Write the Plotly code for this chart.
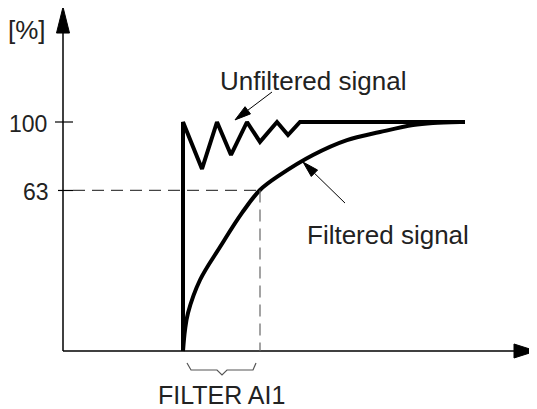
import plotly.graph_objects as go

# ---- data (schematic units: t along x, signal level along y) ----
unf_t = [12.0, 12.0, 13.9, 15.4, 16.8, 18.4, 19.7, 21.4, 22.5, 23.7, 40.2]
unf_y = [0, 100, 79.5, 100, 85.6, 100, 91.3, 100, 94.3, 100, 100]

filt_t = [12.0, 12.2, 12.5, 13.7, 15.7, 17.9, 19.7, 21.7, 25.0, 28.4, 31.7, 35.0, 37.0, 39.7]
filt_y = [0, 9.2, 16.6, 31.0, 45.4, 60.3, 70.3, 76.9, 85.6, 92.1, 95.6, 98.7, 99.6, 100]

tick_pos = [100, 70.1]
tick_text = ["100", "63"]
tau_t = 19.7           # filter time constant position
step_t = 12.0

# page body has an 8px margin, so the figure is 8px smaller than the window
W, H = 529, 401
XR = [-5.5, 47.4]
YR = [-25.33, 149.78]

def to_px(x, y):
    return ((x - XR[0]) / (XR[1] - XR[0]) * W, (YR[1] - y) / (YR[1] - YR[0]) * H)

def to_data(px, py):
    return (XR[0] + px / W * (XR[1] - XR[0]), YR[1] - py / H * (YR[1] - YR[0]))

def head_path(tip, tail, length, half):
    tx, ty = to_px(*tip)
    sx, sy = to_px(*tail)
    dx, dy = tx - sx, ty - sy
    n = (dx * dx + dy * dy) ** 0.5
    ux, uy = dx / n, dy / n
    bx, by = tx - ux * length, ty - uy * length
    p1 = to_data(bx - uy * half, by + ux * half)
    p2 = to_data(bx + uy * half, by - ux * half)
    return f"M{tip[0]},{tip[1]} L{p1[0]},{p1[1]} L{p2[0]},{p2[1]} Z", to_data(bx, by)

fig = go.Figure()
fig.add_trace(go.Scatter(x=unf_t, y=unf_y, mode="lines",
                         line=dict(color="black", width=4), hoverinfo="skip"))
fig.add_trace(go.Scatter(x=filt_t, y=filt_y, mode="lines", line_shape="spline",
                         line=dict(color="black", width=4), hoverinfo="skip"))

shapes = []
# axes
shapes.append(dict(type="line", x0=0, y0=0, x1=0, y1=140, line=dict(color="black", width=1.5)))
shapes.append(dict(type="line", x0=0, y0=0, x1=45.6, y1=0, line=dict(color="black", width=1.5)))
p, _ = head_path((0, 150.2), (0, 0), 26, 6.5)
shapes.append(dict(type="path", path=p, fillcolor="black", line=dict(color="black", width=1)))
p, _ = head_path((47.3, 0), (0, 0), 22, 7)
shapes.append(dict(type="path", path=p, fillcolor="black", line=dict(color="black", width=1)))
# ticks
shapes.append(dict(type="line", x0=-0.8, y0=tick_pos[0], x1=1.0, y1=tick_pos[0], line=dict(color="black", width=1.2)))
shapes.append(dict(type="line", x0=-0.5, y0=tick_pos[1], x1=1.0, y1=tick_pos[1], line=dict(color="black", width=1.2)))
# dashed guides
shapes.append(dict(type="line", x0=1.0, y0=tick_pos[1], x1=tau_t, y1=tick_pos[1],
                   line=dict(color="#444", width=1.2, dash="12px,7px")))
shapes.append(dict(type="line", x0=tau_t, y0=tick_pos[1], x1=tau_t, y1=0,
                   line=dict(color="#666", width=1.2, dash="12px,7px")))
# brace
bx = [12.4, 12.8, 15.4, 15.9, 16.4, 19.0, 19.3]
by = [-5.24, -8.3, -8.3, -10.48, -8.3, -8.3, -5.24]
shapes.append(dict(type="path", path="M" + " L".join(f"{a},{b}" for a, b in zip(bx, by)),
                   line=dict(color="#555", width=1.2)))
# label pointer arrows
for tip, tail in [((17.2, 100.9), (20.9, 113.1)), ((24.0, 82.5), (28.2, 64.6))]:
    p, base = head_path(tip, tail, 16, 4.5)
    shapes.append(dict(type="line", x0=tail[0], y0=tail[1], x1=base[0], y1=base[1],
                       line=dict(color="black", width=1)))
    shapes.append(dict(type="path", path=p, fillcolor="black", line=dict(color="black", width=1)))

fam = "Liberation Sans, Arial, sans-serif"
font = dict(family=fam, size=26, color="#222")
num_font = dict(family=fam, size=23, color="#222")
ann = [
    dict(x=-3.6, y=140.2, text="[%]", xanchor="center", yanchor="middle"),
    dict(x=-1.45, y=tick_pos[0] - 0.8, text=tick_text[0], xanchor="right", yanchor="middle", font=num_font),
    dict(x=-1.2, y=tick_pos[1] - 0.8, text=tick_text[1], xanchor="right", yanchor="middle", font=num_font),
    dict(x=15.5, y=118.0, text="Unfiltered signal", xanchor="left", yanchor="middle"),
    dict(x=24.2, y=50.8, text="Filtered signal", xanchor="left", yanchor="middle"),
    dict(x=15.8, y=-19.0, text="FILTER AI1", xanchor="center", yanchor="middle",
         font=dict(family=fam, size=25, color="#222")),
    dict(x=46.9, y=-9.6, text="t", xanchor="center", yanchor="middle",
         font=dict(family=fam, size=25, color="#555")),
]
for a in ann:
    a.setdefault("font", font)
    a.update(showarrow=False, xref="x", yref="y")

fig.update_layout(
    width=W, height=H, autosize=False,
    margin=dict(l=0, r=0, t=0, b=0),
    paper_bgcolor="white", plot_bgcolor="white",
    showlegend=False,
    xaxis=dict(range=XR, visible=False, fixedrange=True),
    yaxis=dict(range=YR, visible=False, fixedrange=True),
    shapes=shapes, annotations=ann,
)
fig.write_html("out.html", config={"displayModeBar": False})
